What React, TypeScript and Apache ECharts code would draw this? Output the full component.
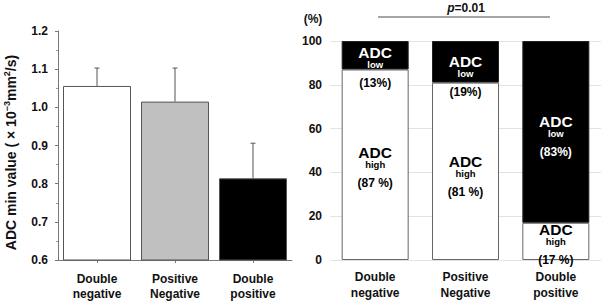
import React, { useEffect, useRef } from "react";
import * as echarts from "echarts";

const FONT = "'Liberation Sans', Arial, sans-serif";

// Left chart
const groups = ["Double\nnegative", "Positive\nNegative", "Double\npositive"];
const adcMin = [1.056, 1.015, 0.814];
const adcSd = [0.047, 0.088, 0.092];
const barColors = ["#ffffff", "#c0c0c0", "#000000"];

// Right chart
const highPct = [87, 81, 17];
const lowPct = [13, 19, 83];
const highLabels = ["(87 %)", "(81 %)", "(17 %)"];
const lowLabels = ["(13%)", "(19%)", "(83%)"];

export default function App() {
  const ref = useRef<HTMLDivElement>(null);
  useEffect(() => {
    if (!ref.current) return;
    const chart = echarts.init(ref.current, null, { renderer: "svg" });

    const rich = {
      a: { fontSize: 15.5, fontWeight: "bold", lineHeight: 15, color: "#000", fontFamily: FONT },
      s: { fontSize: 9.5, fontWeight: "bold", lineHeight: 9, color: "#000", fontFamily: FONT },
      p: { fontSize: 12, fontWeight: "bold", lineHeight: 28, color: "#000", fontFamily: FONT },
      aw: { fontSize: 15.5, fontWeight: "bold", lineHeight: 15, color: "#fff", fontFamily: FONT },
      sw: { fontSize: 9.5, fontWeight: "bold", lineHeight: 9, color: "#fff", fontFamily: FONT },
      pw: { fontSize: 12, fontWeight: "bold", lineHeight: 28, color: "#fff", fontFamily: FONT },
    };
    const lowOffsets = [16, 18, 8.5];
    const highOffsets = [6.5, 8.5, 7];

    chart.setOption({
      animation: false,
      textStyle: { fontFamily: FONT },
      grid: [
        { left: 58, top: 31, width: 234, height: 229 },
        { left: 330, top: 41, right: 0, height: 219 },
      ],
      xAxis: [
        {
          type: "category",
          gridIndex: 0,
          data: groups,
          axisLine: { lineStyle: { color: "#777", width: 1 } },
          axisTick: { show: true, alignWithLabel: true, length: 3, lineStyle: { color: "#777" } },
          axisLabel: {
            color: "#111",
            fontSize: 12,
            fontWeight: "bold",
            lineHeight: 15,
            margin: 11,
            fontFamily: FONT,
          },
        },
        {
          type: "category",
          gridIndex: 1,
          data: groups,
          axisLine: { show: false },
          axisTick: { show: false },
          axisLabel: {
            color: "#111",
            fontSize: 12,
            fontWeight: "bold",
            lineHeight: 16,
            margin: 9,
            fontFamily: FONT,
          },
        },
      ],
      yAxis: [
        {
          type: "value",
          gridIndex: 0,
          min: 0.6,
          max: 1.2,
          interval: 0.1,
          splitLine: { show: false },
          axisLine: { show: true, lineStyle: { color: "#777" } },
          axisTick: { show: true, length: 3, lineStyle: { color: "#777" } },
          minorTick: { show: true, splitNumber: 2, length: 2, lineStyle: { color: "#999" } },
          axisLabel: {
            color: "#111",
            fontSize: 12,
            fontWeight: "bold",
            margin: 10,
            fontFamily: FONT,
            formatter: (v: number) => v.toFixed(1),
          },
          name: "{b|ADC min value ( × 10}{sup|−3}{b|mm}{sup|2}{b|/s)}",
          nameLocation: "middle",
          nameGap: 39,
          nameRotate: 90,
          nameTextStyle: {
            padding: [0, 14, 0, 0],
            rich: {
              b: { fontSize: 14, fontWeight: "bold", color: "#111", fontFamily: FONT },
              sup: {
                fontSize: 9,
                fontWeight: "bold",
                color: "#111",
                fontFamily: FONT,
                padding: [0, 0, 8, 0],
              },
            },
          },
        },
        {
          type: "value",
          gridIndex: 1,
          min: 0,
          max: 100,
          interval: 20,
          axisLine: { show: false },
          axisTick: { show: false },
          splitLine: { show: true, lineStyle: { color: "#e3e3e3", width: 1 } },
          axisLabel: {
            color: "#111",
            fontSize: 12,
            fontWeight: "bold",
            margin: 8,
            fontFamily: FONT,
          },
        },
      ],
      series: [
        {
          type: "bar",
          xAxisIndex: 0,
          yAxisIndex: 0,
          barWidth: 68,
          data: adcMin.map((v, i) => ({
            value: v,
            itemStyle: { color: barColors[i], borderColor: "#555", borderWidth: 1 },
          })),
        },
        {
          type: "custom",
          xAxisIndex: 0,
          yAxisIndex: 0,
          z: 5,
          data: adcMin.map((v, i) => [i, v, v + adcSd[i]]),
          encode: { x: 0, y: [1, 2] },
          renderItem: (params: any, api: any) => {
            const x = api.value(0);
            const p0 = api.coord([x, api.value(1)]);
            const p1 = api.coord([x, api.value(2)]);
            const style = { stroke: "#555", lineWidth: 1 };
            return {
              type: "group",
              children: [
                { type: "line", shape: { x1: p0[0], y1: p0[1], x2: p1[0], y2: p1[1] }, style },
                { type: "line", shape: { x1: p1[0] - 2.5, y1: p1[1], x2: p1[0] + 2.5, y2: p1[1] }, style },
              ],
            };
          },
        },
        {
          type: "bar",
          name: "high",
          xAxisIndex: 1,
          yAxisIndex: 1,
          stack: "pct",
          barWidth: 67,
          itemStyle: { color: "#ffffff", borderColor: "#666", borderWidth: 1 },
          data: highPct.map((v, i) => ({
            value: v,
            label: {
              show: true,
              position: "inside",
              offset: [0, highOffsets[i]],
              formatter: `{a|ADC}\n{s|high}\n{p|${highLabels[i]}}`,
              rich,
            },
          })),
        },
        {
          type: "bar",
          name: "low",
          xAxisIndex: 1,
          yAxisIndex: 1,
          stack: "pct",
          barWidth: 67,
          itemStyle: { color: "#000000", borderColor: "#222", borderWidth: 1 },
          data: lowPct.map((v, i) => ({
            value: v,
            label: {
              show: true,
              position: "inside",
              offset: [0, lowOffsets[i]],
              formatter:
                v > 50
                  ? `{aw|ADC}\n{sw|low}\n{pw|${lowLabels[i]}}`
                  : `{aw|ADC}\n{sw|low}\n{p|${lowLabels[i]}}`,
              rich,
            },
          })),
        },
      ],
      graphic: [
        {
          type: "text",
          x: 313,
          y: 19,
          style: {
            text: "(%)",
            fontSize: 12,
            fontWeight: "bold",
            fontFamily: FONT,
            fill: "#111",
            align: "center",
            verticalAlign: "middle",
          },
        },
        {
          type: "text",
          x: 466,
          y: 8,
          style: {
            text: "{i|p}{n|=0.01}",
            align: "center",
            verticalAlign: "middle",
            rich: {
              i: { fontSize: 12, fontWeight: "bold", fontStyle: "italic", fontFamily: FONT, fill: "#111" },
              n: { fontSize: 12, fontWeight: "bold", fontFamily: FONT, fill: "#111" },
            },
          },
        },
        {
          type: "line",
          shape: { x1: 378, y1: 17, x2: 550, y2: 17 },
          style: { stroke: "#888", lineWidth: 1.5 },
        },
      ],
    });
    return () => chart.dispose();
  }, []);
  return (
    <div
      ref={ref}
      style={{ position: "absolute", left: 0, top: 0, width: 601, height: 302, background: "#fff" }}
    />
  );
}
